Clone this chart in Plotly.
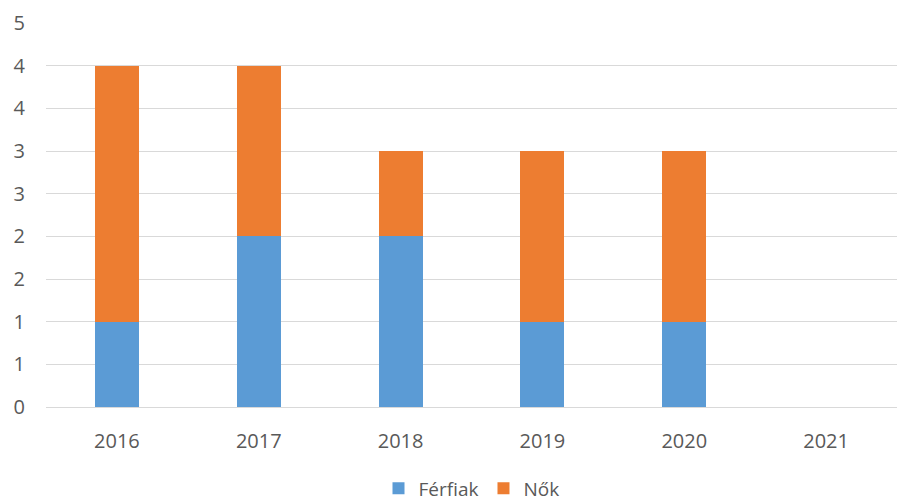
import plotly.graph_objects as go

years = ["2016", "2017", "2018", "2019", "2020", "2021"]
ferfiak = [1, 2, 2, 1, 1, 0]
nok = [3, 2, 1, 2, 2, 0]
y_tickvals = [0, 0.5, 1, 1.5, 2, 2.5, 3, 3.5, 4, 4.5]
y_ticktext = ["0", "1", "1", "2", "2", "3", "3", "4", "4", "5"]

font_family = "Open Sans, Liberation Sans, sans-serif"
text_color = "#595959"

fig = go.Figure()
fig.add_trace(go.Bar(x=years, y=ferfiak, name="Férfiak", marker_color="#5B9BD5",
                     marker_line_width=0))
fig.add_trace(go.Bar(x=years, y=nok, name="Nők", marker_color="#ED7D31",
                     marker_line_width=0))

fig.update_layout(
    barmode="stack",
    bargap=0.69,
    width=901, height=501,
    margin=dict(l=46, r=4, t=23, b=94, autoexpand=False),
    plot_bgcolor="white", paper_bgcolor="white",
    font=dict(family=font_family, size=20, color=text_color),
    legend=dict(orientation="h", x=0.5, xanchor="center", y=-0.212, yanchor="middle",
                font=dict(size=19, color=text_color), traceorder="normal",
                tracegroupgap=0, borderwidth=0),
    xaxis=dict(showgrid=False, showline=True, linecolor="#D9D9D9", linewidth=1,
               automargin=False,
               ticks="", ticklabelstandoff=16, tickfont=dict(size=20, color=text_color)),
    yaxis=dict(range=[0, 4.5], tickvals=y_tickvals, ticktext=y_ticktext,
               automargin=False,
               showgrid=True, gridcolor="#D9D9D9", gridwidth=1, zeroline=False,
               showline=False, ticks="", ticklabelstandoff=20,
               tickfont=dict(size=20, color=text_color)),
)

fig.write_html("out.html", config={"displayModeBar": False},
               post_script="document.body.style.margin='0';")
